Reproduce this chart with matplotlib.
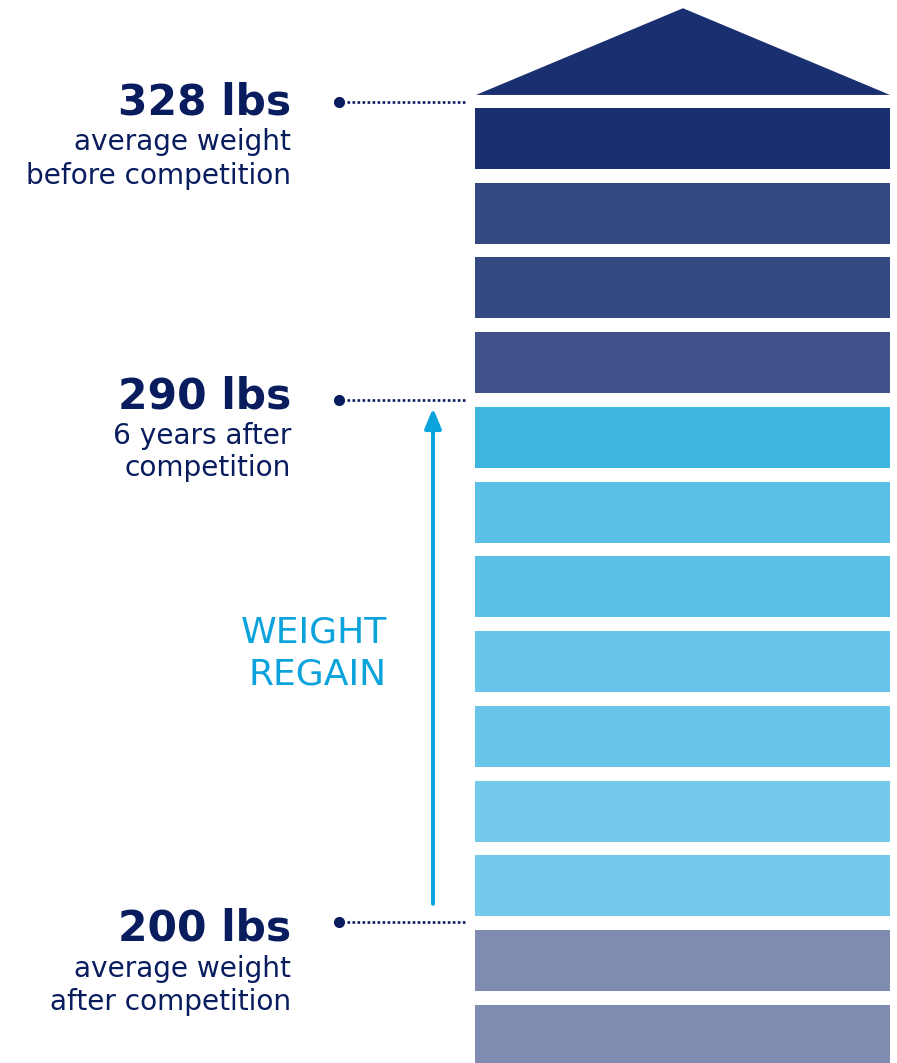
import matplotlib
matplotlib.use("Agg")
import matplotlib.pyplot as plt
from matplotlib.patches import Polygon

# blocks from top to bottom
block_colors = ["#1a2f70", "#344881", "#344881", "#41518a", "#3fb6e0",
                "#5bc0e5", "#5bc0e5", "#68c4e8", "#68c4e8", "#75c9eb",
                "#75c9eb", "#7f8baf", "#7f8baf"]

weights = ["328 lbs", "290 lbs", "200 lbs"]
captions = [["average weight", "before competition"],
            ["6 years after", "competition"],
            ["average weight", "after competition"]]
# level of each marker, in block units (gap above a block)
levels = [12.9, 8.91, 1.92]

navy = "#081c5e"
cyan = "#0ba3dc"

fig = plt.figure(figsize=(8.97, 10.63), dpi=100)
ax = fig.add_axes([0, 0, 1, 1])
ax.set_xlim(0, 897)
ax.set_ylim(0.04, 14.26)
ax.axis("off")

# stacked blocks
n = len(block_colors)
for i, c in enumerate(block_colors):
    ax.bar(682.5, 0.816, width=415, bottom=n - 1 - i, color=c, linewidth=0)

# roof
ax.add_patch(Polygon([(476, 12.99), (890, 12.99), (683, 14.15)],
                     closed=True, color=block_colors[0], linewidth=0))

# markers and labels
bold_off = [-13, -9, -18]
sub_off = [[-48, -82], [-44, -76], [-55, -88]]
for k, lev in enumerate(levels):
    ax.plot([347, 466], [lev, lev], color=navy, lw=1.9, linestyle=(0, (1, 0.9)))
    ax.plot(339, lev, "o", color=navy, markersize=7)
    ax.annotate(weights[k], xy=(291, lev), xytext=(0, bold_off[k]),
                textcoords="offset pixels", ha="right", va="baseline",
                fontsize=30.5, fontweight="bold", color=navy)
    for j, line in enumerate(captions[k]):
        ax.annotate(line, xy=(291, lev), xytext=(0, sub_off[k][j]),
                    textcoords="offset pixels", ha="right", va="baseline",
                    fontsize=20.2, color=navy)

# weight regain arrow
ax.annotate("", xy=(433, 8.80), xytext=(433, 2.17),
            arrowprops=dict(arrowstyle="-|>,head_length=1.2,head_width=0.5",
                            mutation_scale=10, lw=2.9, color=cyan,
                            shrinkA=0, shrinkB=0))
ax.text(387, 5.66, "WEIGHT", ha="right", va="baseline", fontsize=26, color=cyan)
ax.text(387, 5.10, "REGAIN", ha="right", va="baseline", fontsize=26, color=cyan)

fig.savefig("out.png", dpi=100)
